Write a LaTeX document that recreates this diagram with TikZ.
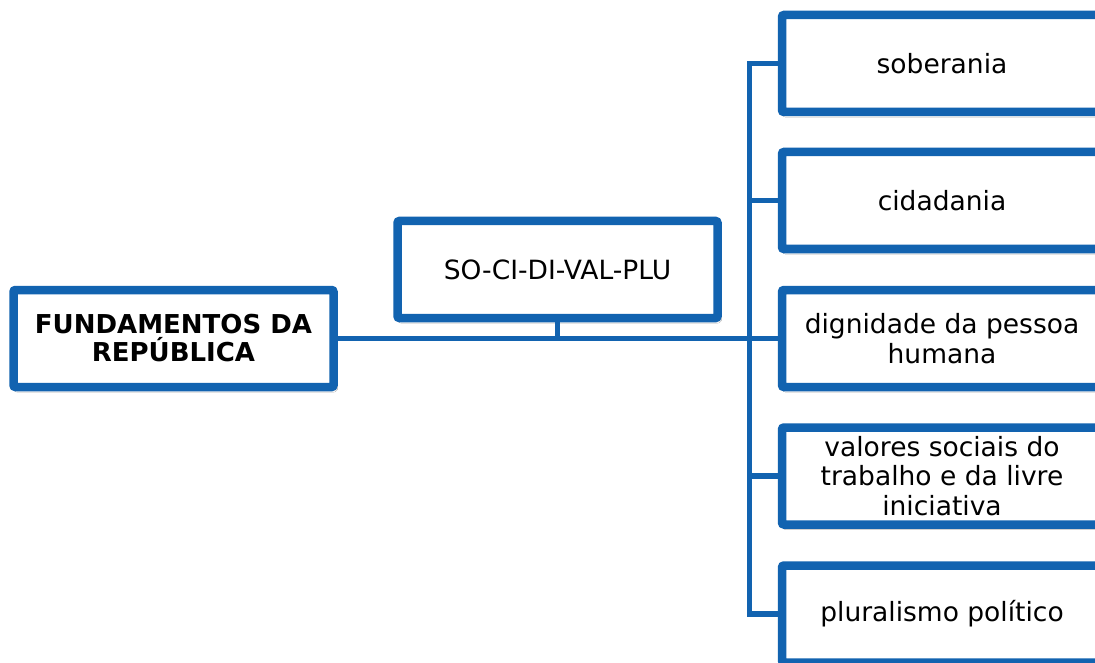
\documentclass[tikz,border=0pt]{standalone}
\usepackage{fontspec}
\setmainfont{DejaVu Sans}
\usetikzlibrary{shadows.blur}
\definecolor{frameblue}{RGB}{18,99,176}
\tikzset{
  box/.style={draw=frameblue, line width=8.5pt, fill=white, rounded corners=2pt,
    minimum width=320pt, minimum height=97pt, inner sep=0pt, align=center,
    font=\fontsize{26.5pt}{29.5pt}\selectfont,
    blur shadow={shadow xshift=2pt, shadow yshift=-3pt, shadow blur steps=6,
      shadow blur extra rounding=1pt, shadow opacity=35}},
  link/.style={draw=frameblue, line width=5.5pt}
}
\begin{document}
\begin{tikzpicture}[x=1pt, y=-1pt]
\clip (0,0) rectangle (1095,663);
\fill[white] (0,0) rectangle (1095,663);
\coordinate (trunk) at (749.5,0);
% the six boxes
\node[box, font=\fontsize{26pt}{28pt}\selectfont\bfseries] (root) at (173.5,338.5) {FUNDAMENTOS DA\\REPÚBLICA};
\node[box] (mid) at (557.5,269.5) {SO-CI-DI-VAL-PLU};
\node[box] (sob) at (942,63.5) {soberania};
\node[box] (cid) at (942,200.5) {cidadania};
\node[box] (dig) at (942,338.5) {dignidade da pessoa\\humana};
\node[box] (val) at (942,476) {valores sociais do\\trabalho e da livre\\iniciativa};
\node[box] (plu) at (942,614) {pluralismo político};
% connectors
\draw[link] (root.east) -- (dig.west);
\draw[link] (mid.south) -- (mid.south |- root.east);
\draw[link] (sob.west) -- (sob.west -| trunk) -- (plu.west -| trunk) -- (plu.west);
\draw[link] (cid.west) -- (cid.west -| trunk);
\draw[link] (val.west) -- (val.west -| trunk);
\end{tikzpicture}
\end{document}
